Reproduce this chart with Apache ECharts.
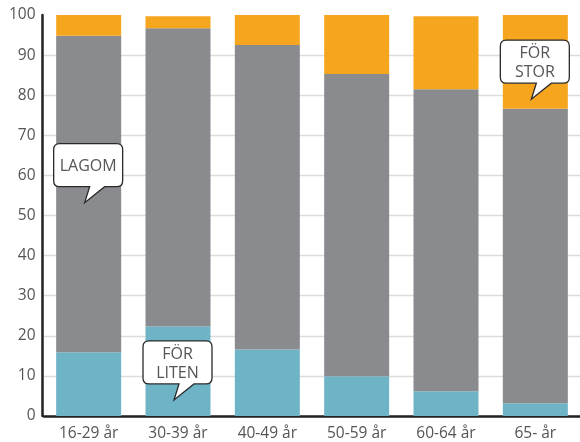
<!DOCTYPE html>
<html>
<head>
<meta charset="utf-8">
<script src="https://cdn.jsdelivr.net/npm/echarts@6/dist/echarts.min.js"></script>
<style>
html,body{margin:0;padding:0;background:#fff;}
#chart{width:580px;height:442px;}
</style>
</head>
<body>
<div id="chart"></div>
<script>
var categories = ['16-29 år', '30-39 år', '40-49 år', '50-59 år', '60-64 år', '65- år'];
var forLiten = [15.9, 22.3, 16.6, 9.9, 6.2, 3.2];
var lagom    = [78.9, 74.4, 75.9, 75.4, 75.3, 73.4];
var forStor  = [5.2, 3.0, 7.5, 14.7, 18.2, 23.4];
var seriesNames = ['FÖR LITEN', 'LAGOM', 'FÖR STOR'];
var yTicks = [0, 10, 20, 30, 40, 50, 60, 70, 80, 90, 100];
// callouts: label text, category index, value where the tail points
var calloutText = ['LAGOM', 'FÖR\nLITEN', 'FÖR\nSTOR'];
var calloutCat = [0, 1, 5];
var calloutVal = [53.2, 4, 79];

var textColor = '#555';
var fontFam = '"Open Sans", "Noto Sans", sans-serif';

var chart = echarts.init(document.getElementById('chart'), null, {renderer: 'canvas'});

var gridColors = yTicks.map(function (t, i) { return i === yTicks.length - 1 ? 'rgba(0,0,0,0)' : '#dcdcdc'; });

function bar(name, data, color) {
  return {
    name: name, type: 'bar', stack: 'total', data: data, barWidth: 65,
    itemStyle: {color: color}, silent: true, z: 2
  };
}

var calloutData = calloutCat.map(function (c, i) { return [c, calloutVal[i]]; });

chart.setOption({
  animation: false,
  grid: {left: 44, right: -1, top: 15, bottom: 26, containLabel: false},
  xAxis: {
    type: 'category', data: categories,
    axisLine: {show: true, lineStyle: {color: '#222', width: 2.5}},
    axisTick: {show: false},
    axisLabel: {color: textColor, fontSize: 15.5, fontFamily: fontFam, margin: 10},
    splitLine: {show: false}
  },
  yAxis: {
    type: 'value', min: 0, max: 100, interval: 10, offset: 1.5,
    axisLine: {show: true, lineStyle: {color: '#222', width: 2.5}},
    axisTick: {show: false},
    axisLabel: {color: textColor, fontSize: 15.5, fontFamily: fontFam, margin: 7, padding: [8, 0, 0, 0]},
    splitLine: {show: true, lineStyle: {color: gridColors, width: 1.3}}
  },
  series: [
    bar(seriesNames[0], forLiten, '#6fb4c6'),
    bar(seriesNames[1], lagom, '#8a8b8f'),
    bar(seriesNames[2], forStor, '#f6a51e'),
    {
      type: 'custom', data: calloutData, z: 10, silent: true,
      encode: {x: 0, y: 1},
      renderItem: function (params, api) {
        var p = api.coord([api.value(0), api.value(1)]);
        var tx = p[0] - 4, ty = p[1];
        var w = 69, h = 43, r = 6;
        var x0 = tx - 31, y0 = ty - 59, x1 = x0 + w, y1 = y0 + h;
        var b0 = tx + 5, b1 = tx + 20;
        var d = 'M' + (x0 + r) + ' ' + y0 +
          ' L' + (x1 - r) + ' ' + y0 +
          ' Q' + x1 + ' ' + y0 + ' ' + x1 + ' ' + (y0 + r) +
          ' L' + x1 + ' ' + (y1 - r) +
          ' Q' + x1 + ' ' + y1 + ' ' + (x1 - r) + ' ' + y1 +
          ' L' + b1 + ' ' + y1 +
          ' L' + tx + ' ' + ty +
          ' L' + b0 + ' ' + y1 +
          ' L' + (x0 + r) + ' ' + y1 +
          ' Q' + x0 + ' ' + y1 + ' ' + x0 + ' ' + (y1 - r) +
          ' L' + x0 + ' ' + (y0 + r) +
          ' Q' + x0 + ' ' + y0 + ' ' + (x0 + r) + ' ' + y0 + ' Z';
        return {
          type: 'group',
          children: [
            {type: 'path', shape: {pathData: d}, style: {fill: '#fff', stroke: '#2a2a2a', lineWidth: 1.3}},
            {type: 'text', style: {
              text: calloutText[params.dataIndex], x: x0 + w / 2, y: y0 + h / 2 + 1,
              align: 'center', verticalAlign: 'middle', fill: textColor,
              font: '16px ' + fontFam, lineHeight: 19
            }}
          ]
        };
      }
    }
  ]
});
</script>
</body>
</html>
